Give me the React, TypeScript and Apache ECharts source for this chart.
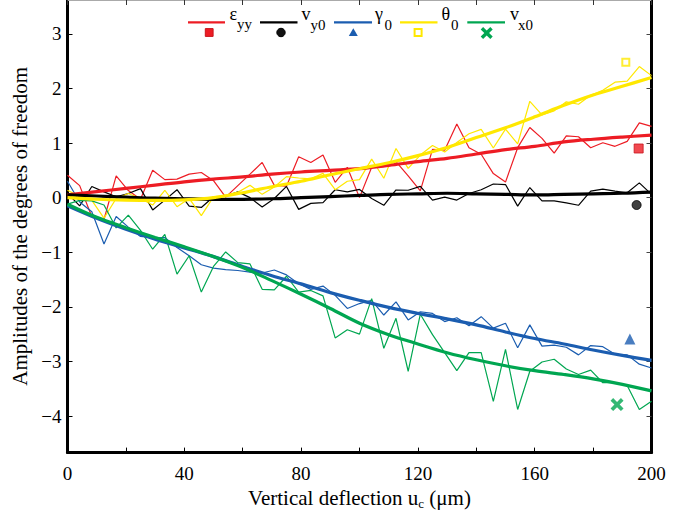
import React, { useEffect, useRef } from "react";
import * as echarts from "echarts";

const FONT = '"Liberation Serif", "Times New Roman", Times, serif';

// sample positions of the raw (thin) curves
const X_RAW = [
  0, 4.17, 8.33, 12.5, 16.67, 20.83, 25, 29.17, 33.33, 37.5, 41.67, 45.83, 50,
  54.17, 58.33, 62.5, 66.67, 70.83, 75, 79.17, 83.33, 87.5, 91.67, 95.83, 100,
  104.17, 108.33, 112.5, 116.67, 120.83, 125, 129.17, 133.33, 137.5, 141.67,
  145.83, 150, 154.17, 158.33, 162.5, 166.67, 170.83, 175, 179.17, 183.33,
  187.5, 191.67, 195.83, 200,
];

const EPS_RAW = [
  0.41, 0.22, -0.35, -0.4, 0.4, 0.13, -0.03, 0.5, 0.33, 0.34, 0.43, 0.46, 0.31,
  0.01, 0.22, 0.43, 0.645, 0.225, 0.21, 0.75, 0.645, 0.78, 0.28, 0.555, 0.0,
  0.555, 0.58, 0.66, 0.4, 0.125, 0.885, 0.87, 1.35, 0.915, 0.795, 0.44, 0.285,
  0.915, 1.285, 1.085, 0.815, 1.13, 1.115, 0.915, 1.005, 0.94, 1.03, 1.37, 1.305,
];
const VY_RAW = [
  0.08, -0.15, 0.205, 0.105, 0.015, 0.075, 0.165, -0.225, -0.045, 0.145, -0.155,
  -0.18, 0.015, 0.025, 0.105, 0.0, -0.17, -0.015, 0.205, -0.215, -0.105, -0.09,
  0.145, 0.105, 0.15, -0.015, -0.14, 0.14, 0.135, 0.205, -0.045, 0.01, -0.045,
  0.075, 0.145, 0.25, 0.24, -0.155, 0.185, -0.06, -0.06, -0.095, -0.14, 0.12,
  0.155, 0.12, 0.09, 0.27, 0.06,
];
const GAMMA_RAW = [
  0.3, -0.08, -0.26, -0.85, -0.345, -0.54, -0.71, -0.735, -0.73, -0.915, -1.065,
  -1.23, -1.29, -1.32, -1.335, -1.365, -1.38, -1.325, -1.415, -1.575, -1.68,
  -1.62, -1.79, -2.03, -1.94, -1.88, -2.15, -1.91, -2.24, -2.09, -2.12, -2.27,
  -2.2, -2.345, -2.18, -2.39, -2.3, -2.75, -2.33, -2.72, -2.7, -2.74, -2.88,
  -2.71, -2.73, -2.87, -2.88, -3.05, -3.12,
];
const THETA_RAW = [
  0.135, 0.02, -0.05, -0.375, -0.015, 0.075, -0.015, -0.135, 0.135, -0.165,
  -0.015, -0.33, 0.015, 0.045, 0.1, 0.225, 0.06, 0.195, 0.385, 0.36, 0.345,
  0.445, 0.145, 0.3, 0.33, 0.705, 0.355, 0.9, 0.535, 0.78, 0.955, 0.835, 1.01,
  1.17, 1.25, 0.91, 1.255, 0.985, 1.765, 1.515, 1.59, 1.755, 1.71, 1.875, 1.965,
  2.115, 2.135, 2.4, 2.235,
];
const VX_RAW = [
  -0.12, -0.05, -0.06, -0.135, -0.555, -0.32, -0.6, -0.945, -0.675, -1.4,
  -1.065, -1.73, -1.26, -0.995, -1.19, -1.215, -1.68, -1.69, -1.44, -1.73,
  -1.7, -1.8, -2.57, -2.42, -2.5, -1.85, -2.76, -2.21, -3.18, -2.135, -2.51,
  -2.84, -3.17, -2.84, -2.84, -3.73, -2.78, -3.88, -3.18, -3.01, -2.96, -3.14,
  -3.24, -3.16, -3.39, -3.39, -3.44, -3.88, -3.73,
];

// fitted (thick) curves
const X_FIT = [0, 10, 20, 30, 40, 50, 60, 70, 80, 90, 100, 110, 120, 130, 140, 150, 160, 170, 180, 190, 200];
const EPS_FIT = [0.05, 0.11, 0.17, 0.23, 0.29, 0.34, 0.38, 0.43, 0.47, 0.5, 0.53, 0.59, 0.66, 0.72, 0.8, 0.88, 0.94, 1.02, 1.07, 1.11, 1.145];
const VY_FIT = [0.05, 0.03, 0.01, -0.01, -0.02, -0.03, -0.03, -0.02, 0.0, 0.02, 0.04, 0.06, 0.07, 0.08, 0.07, 0.06, 0.05, 0.06, 0.07, 0.08, 0.1];
const GAMMA_FIT = [-0.15, -0.38, -0.58, -0.76, -0.92, -1.08, -1.26, -1.43, -1.58, -1.74, -1.88, -2.01, -2.12, -2.22, -2.33, -2.46, -2.58, -2.68, -2.79, -2.89, -2.98];
const THETA_FIT = [0.0, -0.03, -0.045, -0.05, -0.04, 0.0, 0.09, 0.2, 0.3, 0.42, 0.53, 0.64, 0.77, 0.92, 1.1, 1.28, 1.48, 1.69, 1.88, 2.04, 2.2];
const VX_FIT = [-0.12, -0.36, -0.55, -0.73, -0.9, -1.08, -1.28, -1.52, -1.77, -2.03, -2.3, -2.51, -2.68, -2.84, -2.97, -3.08, -3.17, -3.24, -3.32, -3.42, -3.54];

// isolated markers
const EPS_MARK: [number, number] = [195.6, 0.9];
const VY_MARK: [number, number] = [194.9, -0.135];
const GAMMA_MARK: [number, number] = [192.6, -2.59];
const THETA_MARK: [number, number] = [191.2, 2.48];
const VX_MARK: [number, number] = [188.2, -3.79];

const Y_TICKS = [-4, -3, -2, -1, 0, 1, 2, 3];

const RED = "#ED1C24";
const BLACK = "#000000";
const BLUE = "#1B5DB0";
const YELLOW = "#FFE800";
const GREEN = "#00A651";

const X_SYMBOL = "path://M2,0L5,3L8,0L10,2L7,5L10,8L8,10L5,7L2,10L0,8L3,5L0,2Z";

function zip(xs: number[], ys: number[]) {
  return xs.map((x, i) => [x, ys[i]]);
}

function xPoly(cx: number, cy: number, s: number) {
  const base = [
    [2, 0], [5, 3], [8, 0], [10, 2], [7, 5], [10, 8], [8, 10], [5, 7], [2, 10], [0, 8], [3, 5], [0, 2],
  ];
  return base.map(([a, b]) => [cx - s / 2 + (a * s) / 10, cy - s / 2 + (b * s) / 10]);
}

export default function App() {
  const ref = useRef<HTMLDivElement>(null);

  useEffect(() => {
    document.body.style.margin = "0";
    if (!ref.current) return;
    const chart = echarts.init(ref.current, null, { renderer: "svg" });

    const thin = (name: string, color: string, ys: number[]) => ({
      type: "line",
      name,
      data: zip(X_RAW, ys),
      showSymbol: false,
      symbol: "none",
      lineStyle: { color, width: 1.2 },
      z: 2,
      xAxisIndex: 0,
      yAxisIndex: 0,
    });
    const thick = (name: string, color: string, ys: number[]) => ({
      type: "line",
      name: name + " fit",
      data: zip(X_FIT, ys),
      smooth: 0.35,
      showSymbol: false,
      symbol: "none",
      lineStyle: { color, width: 3.2 },
      z: 3,
      xAxisIndex: 0,
      yAxisIndex: 0,
    });
    const mark = (name: string, pt: [number, number], symbol: string, size: number, itemStyle: any) => ({
      type: "scatter",
      name: name + " mark",
      data: [pt],
      symbol,
      symbolSize: size,
      itemStyle,
      z: 5,
      xAxisIndex: 0,
      yAxisIndex: 0,
    });

    const legendY = 22.3;
    const markY = 32.5;
    const mainStyle = (text: string, x: number, y: number) => ({
      type: "text",
      x,
      y,
      style: {
        text,
        fill: "#000",
        font: `18px ${FONT}`,
        textAlign: "left",
        textVerticalAlign: "middle",
        verticalAlign: "middle",
      },
    });
    const subStyle = (text: string, x: number, y: number) => ({
      type: "text",
      x,
      y,
      style: {
        text,
        fill: "#000",
        font: `15px ${FONT}`,
        textAlign: "left",
        textVerticalAlign: "middle",
        verticalAlign: "middle",
      },
    });
    const lline = (x1: number, x2: number, color: string) => ({
      type: "line",
      shape: { x1, y1: legendY, x2, y2: legendY },
      style: { stroke: color, lineWidth: 2.2 },
    });

    const graphic = [
      lline(188, 225, RED),
      { type: "rect", shape: { x: 205.3, y: markY - 3.9, width: 7.8, height: 7.8 }, style: { fill: RED, stroke: "#c8141b", lineWidth: 1 } },
      mainStyle("ε", 229.5, 14),
      subStyle("yy", 237, 24),
      lline(260, 297.5, BLACK),
      { type: "circle", shape: { cx: 281, cy: markY, r: 4.2 }, style: { fill: "#111", stroke: "#000", lineWidth: 1 } },
      mainStyle("v", 301.5, 14),
      subStyle("y0", 310.5, 25),
      lline(334, 372, BLUE),
      { type: "polygon", shape: { points: [[353.3, markY - 4.3], [357.8, markY + 3.6], [348.8, markY + 3.6]] }, style: { fill: BLUE } },
      mainStyle("γ", 375, 14),
      subStyle("0", 384.5, 25),
      lline(400, 437.5, YELLOW),
      { type: "rect", shape: { x: 414.6, y: markY - 3.4, width: 7, height: 7 }, style: { fill: "none", stroke: YELLOW, lineWidth: 2 } },
      mainStyle("θ", 441.5, 14),
      subStyle("0", 451, 25),
      lline(467.3, 505, GREEN),
      { type: "polygon", shape: { points: xPoly(486.7, markY + 0.5, 12) }, style: { fill: GREEN } },
      mainStyle("v", 510, 14),
      subStyle("x0", 518, 25),
    ];

    const option: any = {
      animation: false,
      backgroundColor: "#ffffff",
      textStyle: { fontFamily: FONT },
      grid: { left: 67.5, right: 29.5, top: 0, bottom: 55, containLabel: false },
      xAxis: [
        {
          type: "value",
          position: "bottom",
          min: 0,
          max: 200,
          interval: 20,
          axisLine: { show: true, onZero: false, lineStyle: { color: "#000", width: 3 } },
          axisTick: { show: true, inside: true, length: 5, lineStyle: { color: "#000", width: 1 } },
          axisLabel: {
            show: true,
            margin: 11,
            color: "#000",
            fontFamily: FONT,
            fontSize: 19,
            formatter: (v: number) => (v % 40 === 0 ? String(v) : ""),
          },
          splitLine: { show: false },
          name: "{a|Vertical deflection u}{b|c}{a| (μm)}",
          nameLocation: "middle",
          nameGap: 27,
          nameTextStyle: {
            color: "#000",
            rich: {
              a: { fontFamily: FONT, fontSize: 21, color: "#000", lineHeight: 24 },
              b: { fontFamily: FONT, fontSize: 13, color: "#000", lineHeight: 24, verticalAlign: "bottom" },
            },
          },
        },
        {
          type: "value",
          position: "top",
          min: 0,
          max: 200,
          interval: 20,
          axisLine: { show: true, onZero: false, lineStyle: { color: "#aaa", width: 1 } },
          axisTick: { show: true, inside: true, length: 5, lineStyle: { color: "#333", width: 1 } },
          axisLabel: { show: false },
          splitLine: { show: false },
        },
      ],
      yAxis: [
        {
          type: "value",
          position: "left",
          min: -4.67,
          max: 3.62,
          axisLine: { show: true, onZero: false, lineStyle: { color: "#000", width: 3 } },
          axisTick: { show: true, inside: true, length: 5, customValues: Y_TICKS, lineStyle: { color: "#000", width: 1 } },
          axisLabel: {
            show: true,
            customValues: Y_TICKS,
            margin: 6,
            color: "#000",
            fontFamily: FONT,
            fontSize: 19,
            formatter: (v: number) => (v < 0 ? "\u2212" + Math.abs(v) : String(v)),
          },
          splitLine: { show: false },
          name: "Amplitudes of the degrees of freedom",
          nameLocation: "middle",
          nameGap: 34,
          nameRotate: 90,
          nameTextStyle: { color: "#000", fontFamily: FONT, fontSize: 21 },
        },
        {
          type: "value",
          position: "right",
          min: -4.67,
          max: 3.62,
          axisLine: { show: true, onZero: false, lineStyle: { color: "#000", width: 3 } },
          axisTick: { show: true, inside: true, length: 5, customValues: Y_TICKS, lineStyle: { color: "#444", width: 1 } },
          axisLabel: { show: false },
          splitLine: { show: false },
        },
      ],
      series: [
        thin("εyy", RED, EPS_RAW),
        thin("vy0", BLACK, VY_RAW),
        thin("γ0", BLUE, GAMMA_RAW),
        thin("θ0", YELLOW, THETA_RAW),
        thin("vx0", GREEN, VX_RAW),
        thick("εyy", RED, EPS_FIT),
        thick("vy0", BLACK, VY_FIT),
        thick("γ0", BLUE, GAMMA_FIT),
        thick("θ0", YELLOW, THETA_FIT),
        thick("vx0", GREEN, VX_FIT),
        mark("εyy", EPS_MARK, "rect", 9, { color: RED, borderColor: "#c8141b", borderWidth: 1 }),
        mark("vy0", VY_MARK, "circle", 9, { color: "#111", borderColor: "#000", borderWidth: 1 }),
        mark("γ0", GAMMA_MARK, "triangle", 11, { color: BLUE }),
        mark("θ0", THETA_MARK, "rect", 7, { color: "rgba(255,255,255,0)", borderColor: YELLOW, borderWidth: 2 }),
        mark("vx0", VX_MARK, X_SYMBOL, 13, { color: GREEN }),
      ],
      graphic,
    };

    chart.setOption(option);
    return () => chart.dispose();
  }, []);

  return (
    <div
      ref={ref}
      style={{ position: "absolute", left: 0, top: 0, width: 681, height: 515, overflow: "hidden", background: "#fff" }}
    />
  );
}
